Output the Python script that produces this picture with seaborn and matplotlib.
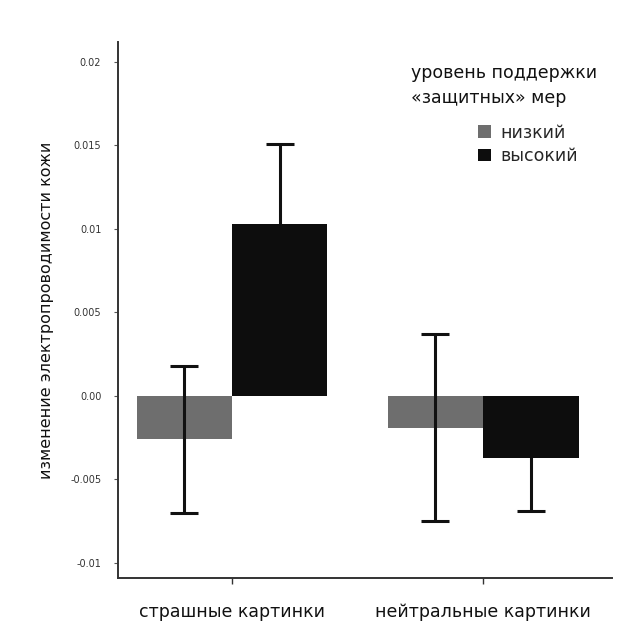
import matplotlib
matplotlib.use("Agg")
import matplotlib.pyplot as plt
import seaborn as sns
import pandas as pd
import numpy as np
from matplotlib.patches import Patch

categories = ["страшные картинки", "нейтральные картинки"]
levels = ["низкий", "высокий"]
means_low = [-0.0026, -0.0019]
means_high = [0.0103, -0.0037]
err_low = [0.0044, 0.0056]
err_high = [0.0048, 0.0032]
yticks = [0.02, 0.015, 0.01, 0.005, 0.0, -0.005, -0.01]
ytick_labels = ["0.02", "0.015", "0.01", "0.005", "0.00", "-0.005", "-0.01"]
colors = ["#6e6e6e", "#0d0d0d"]

df = pd.DataFrame({
    "cat": categories * 2,
    "level": [levels[0]] * 2 + [levels[1]] * 2,
    "val": means_low + means_high,
    "err": err_low + err_high,
})

sns.set_theme(style="white")
plt.rcParams["font.family"] = ["DejaVu Sans"]

fig = plt.figure(figsize=(6.39, 6.43), dpi=100)
ax = fig.add_axes([0.1847, 0.1011, 0.958 - 0.1847, 0.935 - 0.1011])

sns.barplot(data=df, x="cat", y="val", hue="level", order=categories,
            hue_order=levels, palette=colors, errorbar=None, width=0.76,
            saturation=1, linewidth=0, ax=ax, legend=False)

bar_containers = list(ax.containers)
for c in bar_containers:
    for p in c.patches:
        p.set_zorder(2)
        p.set_linewidth(0)

for i, lev in enumerate(levels):
    cont = bar_containers[i]
    sub = df[df["level"] == lev].set_index("cat").loc[categories]
    xs = [p.get_x() + p.get_width() / 2 for p in cont.patches]
    ax.errorbar(xs, sub["val"].values, yerr=sub["err"].values, fmt="none",
                ecolor="#111111", elinewidth=2.2, capsize=10, capthick=2.2,
                zorder=1 if lev == levels[1] else 3)

ax.set_xlim(-0.454, 1.514)
ax.set_ylim(-0.0109, 0.0212)
ax.set_yticks(yticks)
ax.set_yticklabels(ytick_labels, fontsize=7, color="#333333")
ax.tick_params(axis="y", length=3, width=0.8, color="#555555", pad=9, left=True)
ax.tick_params(axis="x", length=4, width=1, color="#333333", pad=14, bottom=True,
               labelsize=12.5, labelcolor="#111111")
ax.set_xlabel("")
ax.set_ylabel("изменение электропроводимости кожи", fontsize=11.5,
              color="#111111", labelpad=12)
for s in ["top", "right"]:
    ax.spines[s].set_visible(False)
for s in ["left", "bottom"]:
    ax.spines[s].set_color("#333333")
    ax.spines[s].set_linewidth(1.4)

ax.text(0.592, 0.958, "уровень поддержки\n«защитных» мер", transform=ax.transAxes,
        fontsize=12.5, color="#111111", va="top", ha="left", linespacing=1.45)
handles = [Patch(facecolor=c, edgecolor="none") for c in colors]
ax.legend(handles, levels, loc="upper left", bbox_to_anchor=(0.715, 0.86),
          frameon=False, fontsize=12.5, handlelength=0.75, handleheight=0.75,
          handletextpad=0.5, labelspacing=0.3, borderaxespad=0)

fig.savefig("out.png", dpi=100, facecolor="white")
